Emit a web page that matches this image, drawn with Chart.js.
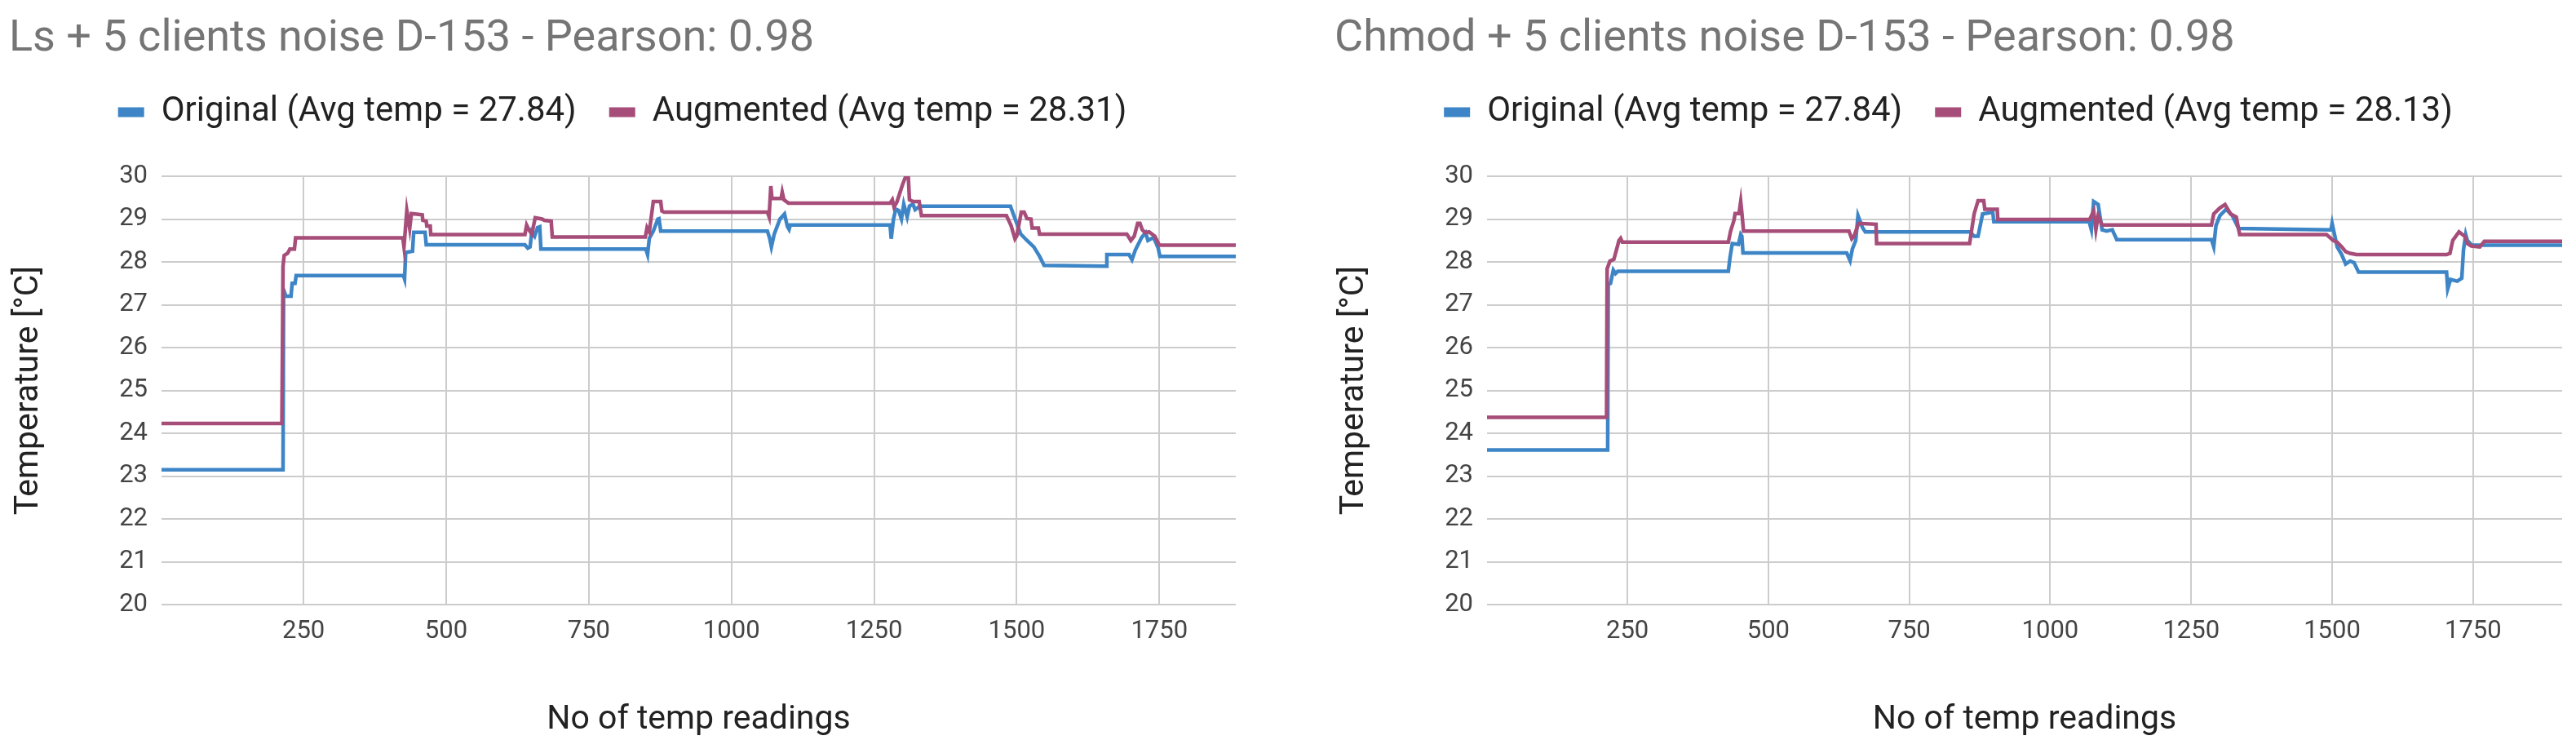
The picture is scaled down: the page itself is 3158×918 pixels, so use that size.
<!DOCTYPE html>
<html>
<head>
<meta charset="utf-8">
<title>Original vs augmented temperature, D-153</title>
<script src="https://cdn.jsdelivr.net/npm/chart.js@4.4.1/dist/chart.umd.min.js"></script>
<style>
  html, body { margin: 0; padding: 0; background: #fff; }
  body { width: 3158px; height: 918px; position: relative; overflow: hidden; }
  .box { position: absolute; top: 0; height: 918px; }
  #left { left: 0; width: 1532px; }
  #right { left: 1625px; width: 1533px; }
</style>
</head>
<body>
<div class="box" id="left"><canvas id="lsChart"></canvas></div>
<div class="box" id="right"><canvas id="chmodChart"></canvas></div>
<script>
// x axis tick labels
const xTicks = [250, 500, 750, 1000, 1250, 1500, 1750];

// Ls + 5 clients noise - breakpoints (reading no, temp)
const lsOrigX = [1, 214, 215, 219, 228, 230, 235, 237, 425, 427, 429, 441, 443, 463, 465, 638, 643, 647, 650, 655, 660, 664, 666,
  850, 853, 856, 863, 871, 873, 876, 1063, 1067, 1070, 1075, 1085, 1093, 1098, 1101, 1103, 1278, 1280, 1284, 1288, 1293, 1298,
  1302, 1308, 1312, 1318, 1322, 1330, 1489, 1497, 1507, 1518, 1530, 1540, 1548, 1657, 1658, 1697, 1702, 1708, 1719, 1726, 1730,
  1740, 1748, 1751, 1884];
const lsOrigY = [23.15, 23.15, 27.35, 27.2, 27.2, 27.5, 27.5, 27.68, 27.68, 27.6, 28.22, 28.25, 28.69, 28.69, 28.4, 28.4, 28.32, 28.35, 28.7, 28.6, 28.8, 28.82, 28.3,
  28.3, 28.17, 28.55, 28.72, 29.0, 29.01, 28.72, 28.72, 28.55, 28.35, 28.65, 29.0, 29.12, 28.83, 28.76, 28.86, 28.86, 28.54, 29.0, 29.23, 29.2, 29.0,
  29.35, 29.05, 29.3, 29.35, 29.22, 29.3, 29.3, 29.01, 28.65, 28.5, 28.35, 28.13, 27.92, 27.9, 28.17, 28.17, 28.05, 28.28, 28.57, 28.68, 28.5,
  28.57, 28.32, 28.13, 28.13];
const lsAugX = [1, 212, 214, 216, 222, 226, 234, 236, 424, 426, 431, 434, 436, 439, 458, 459, 465, 466, 472, 473, 638, 641, 645, 650, 656, 668, 672, 684, 686,
  849, 852, 856, 863, 876, 878, 882, 1063, 1066, 1069, 1071, 1087, 1089, 1092, 1100, 1278, 1282, 1285, 1290, 1300, 1305, 1310, 1312, 1318,
  1329, 1333, 1482, 1490, 1497, 1500, 1508, 1513, 1518, 1525, 1527, 1538, 1540, 1693, 1700, 1706, 1712, 1716, 1720, 1725, 1732, 1742, 1750, 1884];
const lsAugY = [24.23, 24.23, 27.9, 28.15, 28.2, 28.3, 28.3, 28.56, 28.56, 28.35, 29.2, 28.95, 28.78, 29.13, 29.1, 28.97, 28.95, 28.84, 28.84, 28.64, 28.64, 28.86, 28.75, 28.65, 29.03, 29.0, 28.97, 28.95, 28.58,
  28.58, 28.8, 28.7, 29.41, 29.41, 29.19, 29.16, 29.16, 29.05, 29.77, 29.48, 29.48, 29.63, 29.45, 29.37, 29.37, 29.45, 29.28, 29.4, 29.81, 29.98, 29.98, 29.45, 29.41,
  29.41, 29.08, 29.08, 28.85, 28.54, 28.6, 29.16, 29.16, 29.01, 29.0, 28.79, 28.79, 28.65, 28.65, 28.5, 28.6, 28.9, 28.9, 28.75, 28.68, 28.7, 28.6, 28.39, 28.39];

// Chmod + 5 clients noise
const chOrigX = [1, 215, 216, 220, 222, 225, 229, 233, 429, 432, 436, 447, 451, 453, 455, 639, 645, 649, 655, 659, 663, 667, 672,
  858, 865, 872, 880, 898, 900, 1069, 1073, 1077, 1085, 1092, 1100, 1110, 1118, 1286, 1290, 1294, 1301, 1312, 1323, 1334,
  1498, 1500, 1509, 1517, 1524, 1532, 1539, 1547, 1703, 1705, 1710, 1722, 1730, 1733, 1737, 1740, 1748, 1908];
const chOrigY = [23.61, 23.61, 27.48, 27.5, 27.62, 27.81, 27.73, 27.78, 27.78, 28.1, 28.43, 28.41, 28.64, 28.6, 28.21, 28.21, 28.03, 28.3, 28.5, 29.08, 28.94, 28.8, 28.7,
  28.7, 28.6, 28.6, 29.12, 29.16, 28.94, 28.94, 28.75, 29.41, 29.34, 28.75, 28.72, 28.75, 28.52, 28.52, 28.35, 28.85, 29.08, 29.23, 29.08, 28.78,
  28.75, 28.9, 28.35, 28.17, 27.95, 28.02, 27.98, 27.76, 27.76, 27.37, 27.59, 27.55, 27.62, 28.28, 28.64, 28.5, 28.39, 28.39];
const chAugX = [1, 213, 214, 219, 226, 232, 235, 238, 241, 429, 433, 439, 441, 448, 451, 453, 456, 643, 648, 652, 660, 691, 692,
  857, 865, 872, 882, 884, 906, 907, 1070, 1077, 1081, 1085, 1092, 1286, 1290, 1301, 1310, 1320, 1330, 1336,
  1490, 1502, 1509, 1517, 1524, 1532, 1543, 1703, 1709, 1714, 1725, 1735, 1740, 1747, 1762, 1770, 1908];
const chAugY = [24.37, 24.37, 27.84, 28.02, 28.06, 28.35, 28.5, 28.55, 28.46, 28.46, 28.72, 28.97, 29.13, 29.13, 29.41, 29.15, 28.72, 28.72, 28.54, 28.6, 28.9, 28.88, 28.43,
  28.43, 29.12, 29.43, 29.43, 29.23, 29.23, 28.99, 28.99, 29.19, 28.75, 29.08, 28.86, 28.86, 29.12, 29.26, 29.34, 29.12, 29.05, 28.64,
  28.64, 28.5, 28.46, 28.35, 28.24, 28.2, 28.17, 28.17, 28.2, 28.5, 28.7, 28.6, 28.43, 28.37, 28.35, 28.48, 28.48];

const BLUE = '#3d85c6';
const PINK = '#a64d79';
const FONT = 'Roboto';

function points(xs, ys) {
  return xs.map((x, i) => ({ x: x, y: ys[i] }));
}

function makeChart(canvasId, title, origLabel, augLabel, orig, aug, xMax) {
  return new Chart(document.getElementById(canvasId), {
    type: 'line',
    data: {
      datasets: [
        { label: origLabel, data: orig, borderColor: BLUE, backgroundColor: BLUE, borderWidth: 4.5, pointRadius: 0, tension: 0, order: 1 },
        { label: augLabel, data: aug, borderColor: PINK, backgroundColor: PINK, borderWidth: 4.5, pointRadius: 0, tension: 0, order: 0 }
      ]
    },
    options: {
      responsive: true,
      maintainAspectRatio: false,
      animation: false,
      layout: { padding: { left: 11, right: 17, top: 0, bottom: 0 } },
      plugins: {
        tooltip: { enabled: false },
        title: {
          display: true,
          text: title,
          align: 'start',
          color: '#757575',
          font: { family: FONT, size: 54, weight: 'normal', lineHeight: 1 },
          padding: { top: 21, bottom: 1.5 }
        },
        legend: {
          position: 'top',
          weight: 1800,
          labels: {
            color: '#222',
            font: { family: FONT, size: 42 },
            boxWidth: 32,
            boxHeight: 12,
            padding: 40,
            sort: (a, b) => a.datasetIndex - b.datasetIndex,
            generateLabels: chart => Chart.defaults.plugins.legend.labels.generateLabels(chart)
              .map(item => Object.assign(item, { lineWidth: 0 }))
          }
        },
        // empty subtitle used as a gap between legend and plot
        subtitle: {
          display: true,
          text: '',
          font: { size: 1, lineHeight: 1 },
          padding: { top: 0, bottom: 46.5 }
        }
      },
      scales: {
        x: {
          type: 'linear',
          min: 1,
          max: xMax,
          afterBuildTicks: s => { s.ticks = xTicks.map(v => ({ value: v })); },
          afterFit: s => { s.height = 177; },
          border: { display: false },
          grid: { color: '#cccccc', lineWidth: 2, drawTicks: false },
          ticks: {
            color: '#444',
            font: { family: FONT, size: 31 },
            padding: 15,
            maxRotation: 0,
            autoSkip: false,
            callback: v => String(v)
          },
          title: {
            display: true,
            text: 'No of temp readings',
            color: '#222',
            font: { family: FONT, size: 41, lineHeight: 1 },
            padding: { top: 0, bottom: 14.5 }
          }
        },
        y: {
          min: 20,
          max: 30,
          afterFit: s => { s.width = 187; },
          border: { display: false },
          grid: { color: '#cccccc', lineWidth: 2, drawTicks: false },
          ticks: {
            stepSize: 1,
            color: '#444',
            font: { family: FONT, size: 31 },
            padding: 17
          },
          title: {
            display: true,
            text: 'Temperature [°C]',
            color: '#222',
            font: { family: FONT, size: 41, lineHeight: 1 },
            padding: { top: 4, bottom: 0 }
          }
        }
      }
    }
  });
}

makeChart('lsChart', 'Ls + 5 clients noise D-153 - Pearson: 0.98',
  'Original (Avg temp = 27.84)', 'Augmented (Avg temp = 28.31)',
  points(lsOrigX, lsOrigY), points(lsAugX, lsAugY), 1884);

makeChart('chmodChart', 'Chmod + 5 clients noise D-153 - Pearson: 0.98',
  'Original (Avg temp = 27.84)', 'Augmented (Avg temp = 28.13)',
  points(chOrigX, chOrigY), points(chAugX, chAugY), 1908);
</script>
</body>
</html>
